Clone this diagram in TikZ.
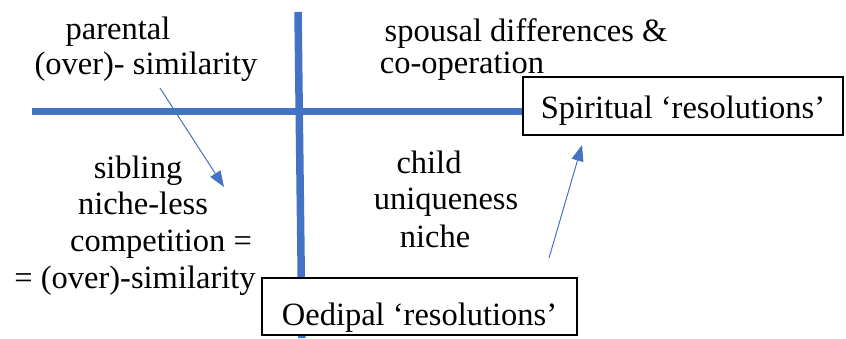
\documentclass[tikz,border=0pt]{standalone}
\usepackage{fontspec}
\setmainfont{Liberation Serif}
\usetikzlibrary{arrows.meta}
\definecolor{offblue}{HTML}{4472C4}
\tikzset{
  axis/.style={draw=offblue, line width=7.5pt},
  lbl/.style={inner sep=0pt, font=\fontsize{32.5}{36}\selectfont, anchor=base},
  resbox/.style={draw=black, line width=1.8pt, fill=white, font=\fontsize{32.5}{36}\selectfont, inner sep=0pt},
  thinarrow/.style={draw=offblue, line width=1pt, -{Triangle[length=16pt,width=12pt]}}
}
\begin{document}
\begin{tikzpicture}[x=1pt,y=-1pt]
\useasboundingbox (0,0) rectangle (846,338);
% axes
\coordinate (hl) at (32,111.5);
\coordinate (hr) at (540,111.5);
\coordinate (vt) at (298,12);
\coordinate (vb) at (302,338);
\draw[axis] (hl) -- (hr);
\draw[axis] (vt) -- (vb);
% boxes
\node[resbox, minimum width=320pt, minimum height=58pt] (spirit) at (683,106) {\raisebox{-3.5pt}[24pt][7pt]{Spiritual ‘resolutions’}};
\node[resbox, minimum width=315pt, minimum height=57pt] (oedip) at (419.5,306.5) {\raisebox{-10pt}[24pt][7pt]{Oedipal ‘resolutions’}};
% labels
\node[lbl] (p1) at (118,39) {parental};
\node[lbl] (p2) at (146,74) {(over)- similarity};
\node[lbl] (s1) at (526,41) {spousal differences \&};
\node[lbl] (s2) at (462,73) {co-operation};
\node[lbl] (b1) at (138,178) {sibling};
\node[lbl] (b2) at (143,214) {niche-less};
\node[lbl] (b3) at (161,251) {competition =};
\node[lbl] (b4) at (135,288) {= (over)-similarity};
\node[lbl] (c1) at (429,173) {child};
\node[lbl] (c2) at (446,209) {uniqueness};
\node[lbl] (c3) at (435,247) {niche};
% arrows
\coordinate (a1s) at (160,88);
\coordinate (a1e) at (224,187);
\draw[thinarrow] (a1s) -- (a1e);
\coordinate (a2s) at (549,258);
\draw[thinarrow] (a2s) -- (582,145);
\end{tikzpicture}
\end{document}
